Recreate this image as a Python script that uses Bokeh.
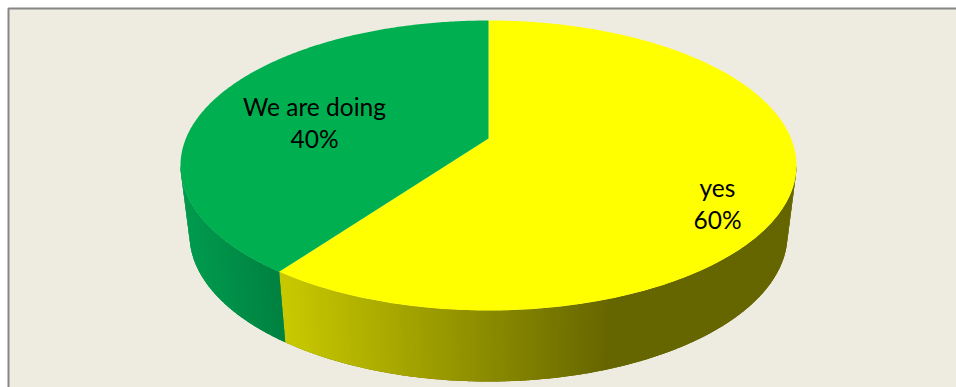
import numpy as np
from bokeh.embed import file_html
from bokeh.models import Range1d
from bokeh.plotting import figure
from bokeh.resources import INLINE
from bokeh.core.properties import value

# Slices, clockwise from twelve o'clock
categories = ["yes", "We are doing"]
shares = [60, 40]
top_colors = ["#FFFF00", "#00B050"]
label_points = [(717, 203), (314, 122)]

W, H = 956, 387
CX = 488.0
TOP = dict(cy=165.0, rx=308.0, ry=145.0)
BOTTOM = dict(cy=234.0, rx=299.0, ry=147.0)
K = -0.186  # perspective shift of the pie's apex along the view axis


def rim(theta, e):
    """Point on a tilted circle, theta measured clockwise from the top."""
    u, v = np.sin(theta), -np.cos(theta)
    d = 1 + K * v
    return CX + e["rx"] * u * np.sqrt(1 - K * K) / d, e["cy"] + e["ry"] * (v + K) / d


def side_color(x, name):
    if name == "yes":
        t = np.clip((x - 285) / (610 - 285), 0, 1)
        c = 200 + (102 - 200) * t
        return "#%02x%02x00" % (int(c), int(c))
    t = np.clip((x - 190) / (285 - 190), 0, 1)
    g = 154 + (128 - 154) * t
    b = 78 + (64 - 78) * t
    return "#00%02x%02x" % (int(g), int(b))


p = figure(width=W, height=H, output_backend="svg", toolbar_location=None,
           x_range=Range1d(0, W), y_range=Range1d(H, 0), min_border=0,
           background_fill_color="#FFFFFF", border_fill_color="#FFFFFF",
           outline_line_color=None)
p.axis.visible = False
p.grid.visible = False

# Chart panel; its right and bottom edges run past the window
p.quad(left=[8], right=[975], top=[8], bottom=[410], fill_color="#EEECE1",
       line_color="#868686", line_width=2)

ends = np.cumsum(shares) / np.sum(shares) * 2 * np.pi
starts = np.concatenate([[0], ends[:-1]])

# Only the rim facing the viewer is drawn, between the two widest points of the ellipse
front_start = np.arccos(K)
front_end = 2 * np.pi - front_start

for name, a0, a1 in zip(categories, starts, ends):
    lo, hi = max(a0, front_start), min(a1, front_end)
    if hi <= lo:
        continue
    # solid underlay so the shading strips leave no seams
    t = np.linspace(lo, hi, 200)
    xt, yt = rim(t, TOP)
    xb, yb = rim(t[::-1], BOTTOM)
    p.patch(np.r_[xt, xb], np.r_[yt, yb], fill_color=side_color(xt.mean(), name), line_color=None)

    steps = max(int((hi - lo) * 90), 2)
    edges = np.linspace(lo, hi, steps + 1)
    xs, ys, fills = [], [], []
    for t0, t1 in zip(edges[:-1], edges[1:]):
        t1b = min(t1 + 0.006, hi)
        x00, y00 = rim(t0, TOP)
        x01, y01 = rim(t1b, TOP)
        x11, y11 = rim(t1b, BOTTOM)
        x10, y10 = rim(t0, BOTTOM)
        xs.append([x00, x01, x11, x10])
        ys.append([y00, y01, y11, y10])
        fills.append(side_color((x00 + x01) / 2, name))
    p.patches(xs, ys, fill_color=fills, line_color=None)

# Top face
ax, ay = CX, TOP["cy"] + TOP["ry"] * K
for name, color, a0, a1 in zip(categories, top_colors, starts, ends):
    t = np.linspace(a0, a1, 240)
    x, y = rim(t, TOP)
    p.patch(np.r_[ax, x], np.r_[ay, y], fill_color=color, line_color=None)

# Two-line data labels
for name, share, (lx, ly) in zip(categories, shares, label_points):
    p.text([lx], [ly], text=[f"{name}\n{share}%"], text_align="center", text_baseline="middle",
           text_font=value("Lato"), text_font_size="24.5px", text_color="#000000",
           text_line_height=1.11)

open("out.html", "w").write(file_html(p, INLINE))
